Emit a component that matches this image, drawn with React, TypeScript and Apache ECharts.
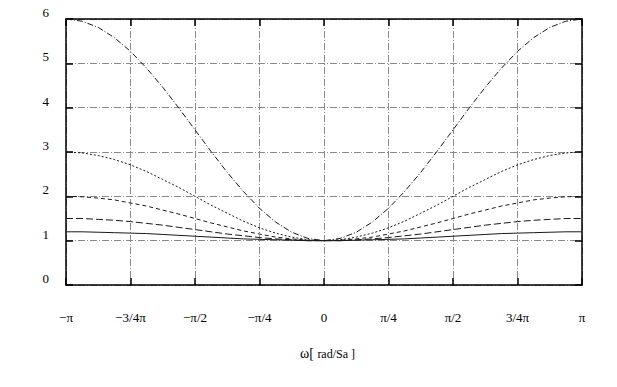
import React, { useEffect, useRef } from "react";
import * as echarts from "echarts";

// x positions in units of pi/4 (from 0 to pi, step pi/16)
const halfX = [0, 0.25, 0.5, 0.75, 1, 1.25, 1.5, 1.75, 2, 2.25, 2.5, 2.75, 3, 3.25, 3.5, 3.75, 4];
// magnitude profiles (from omega = 0 to pi; symmetric)
const curveA = [1, 1.0, 1.01, 1.02, 1.03, 1.04, 1.06, 1.08, 1.1, 1.12, 1.14, 1.16, 1.17, 1.18, 1.19, 1.2, 1.2]; // solid
const curveB = [1, 1.0, 1.02, 1.04, 1.07, 1.11, 1.15, 1.2, 1.25, 1.3, 1.35, 1.39, 1.43, 1.46, 1.48, 1.5, 1.5]; // long dash
const curveC = [1, 1.01, 1.04, 1.08, 1.15, 1.22, 1.31, 1.4, 1.5, 1.6, 1.69, 1.78, 1.85, 1.92, 1.96, 1.99, 2]; // dash
const curveD = [1, 1.02, 1.08, 1.17, 1.29, 1.44, 1.62, 1.8, 2, 2.2, 2.38, 2.56, 2.71, 2.83, 2.92, 2.98, 3]; // dotted
const curveE = [1, 1.05, 1.19, 1.42, 1.73, 2.11, 2.54, 3.01, 3.5, 3.99, 4.46, 4.89, 5.27, 5.58, 5.81, 5.95, 6.0]; // dash-dot

const xTickLabels: Record<string, string> = {
  "-4": "\u2212\u03c0",
  "-3": "\u22123/4\u03c0",
  "-2": "\u2212\u03c0/2",
  "-1": "\u2212\u03c0/4",
  "0": "0",
  "1": "\u03c0/4",
  "2": "\u03c0/2",
  "3": "3/4\u03c0",
  "4": "\u03c0",
};

function mirror(vals: number[]): number[][] {
  const pts: number[][] = [];
  for (let i = halfX.length - 1; i > 0; i--) pts.push([-halfX[i], vals[i]]);
  for (let i = 0; i < halfX.length; i++) pts.push([halfX[i], vals[i]]);
  return pts;
}

const FONT = "'Liberation Serif', 'Times New Roman', serif";

export default function App() {
  const ref = useRef<HTMLDivElement>(null);
  useEffect(() => {
    if (!ref.current) return;
    const chart = echarts.init(ref.current, undefined, { renderer: "svg" });
    const gridLine = { show: true, lineStyle: { color: "#8a8a8a", width: 1, type: [7, 2, 1, 2] as any } };
    const tickStyle = { show: true, inside: true, length: 7, lineStyle: { color: "#000", width: 1.5 } };
    const axisLine = { show: true, onZero: false, lineStyle: { color: "#000", width: 1.5 } };
    const mk = (name: string, vals: number[], type: any) => ({
      name,
      type: "line",
      data: mirror(vals),
      showSymbol: false,
      smooth: false,
      lineStyle: { color: "#1a1a1a", width: 1, type },
      xAxisIndex: 0,
      yAxisIndex: 0,
    });
    chart.setOption({
      animation: false,
      backgroundColor: "#fff",
      grid: { left: 66, right: 35, top: 19, bottom: 102 },
      xAxis: [
        {
          type: "value",
          min: -4,
          max: 4,
          interval: 1,
          position: "bottom",
          axisLine,
          axisTick: tickStyle,
          splitLine: gridLine,
          axisLabel: {
            margin: 26,
            fontFamily: FONT,
            fontSize: 13,
            color: "#000",
            formatter: (v: number) => xTickLabels[String(Math.round(v))] ?? "",
          },
        },
        {
          type: "value",
          min: -4,
          max: 4,
          interval: 1,
          position: "top",
          axisLine,
          axisTick: tickStyle,
          splitLine: { show: false },
          axisLabel: { show: false },
        },
      ],
      yAxis: [
        {
          type: "value",
          min: 0,
          max: 6,
          interval: 1,
          position: "left",
          axisLine,
          axisTick: tickStyle,
          splitLine: gridLine,
          axisLabel: {
            margin: 17,
            fontFamily: FONT,
            fontSize: 13,
            color: "#000",
            verticalAlign: "bottom",
          },
        },
        {
          type: "value",
          min: 0,
          max: 6,
          interval: 1,
          position: "right",
          axisLine,
          axisTick: tickStyle,
          splitLine: { show: false },
          axisLabel: { show: false },
        },
      ],
      graphic: [
        {
          type: "text",
          left: 300,
          top: 346,
          style: {
            text: "{a|\u03c9[ }{b|rad/Sa ]}",
            rich: {
              a: { fontFamily: FONT, fontSize: 14, fill: "#000", verticalAlign: "bottom" },
              b: { fontFamily: FONT, fontSize: 12, fill: "#000", verticalAlign: "bottom", padding: [3, 0, 0, 0] },
            },
          },
        },
      ],
      series: [
        mk("a", curveA, "solid"),
        mk("b", curveB, [7, 3]),
        mk("c", curveC, [4, 3]),
        mk("d", curveD, [2, 2]),
        mk("e", curveE, [6, 2, 1, 2]),
      ],
    });
    return () => chart.dispose();
  }, []);
  return <div ref={ref} style={{ position: "absolute", left: 0, top: 0, width: 617, height: 387 }} />;
}
